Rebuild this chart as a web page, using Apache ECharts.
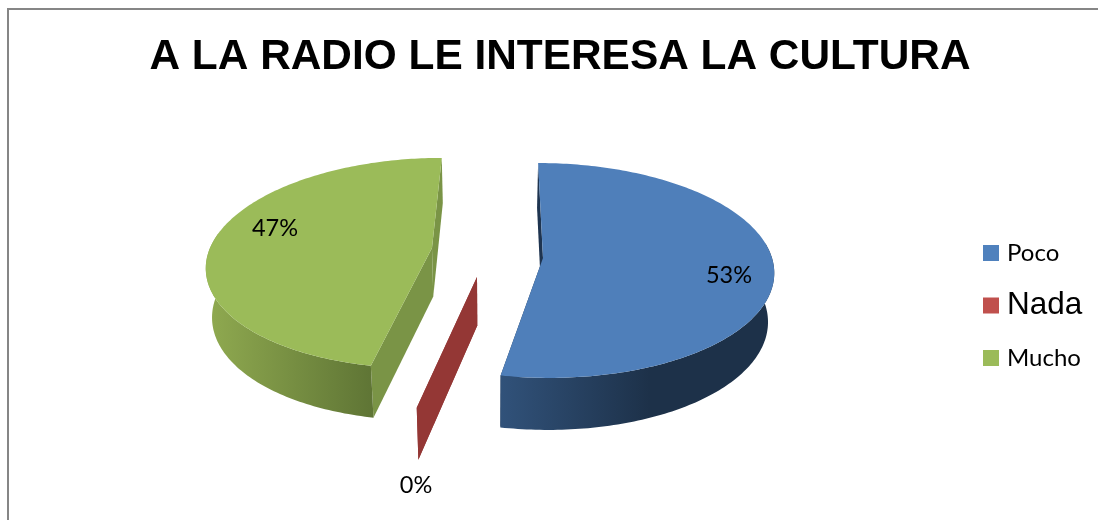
<!DOCTYPE html>
<html>
<head>
<meta charset="utf-8">
<style>html,body{margin:0;padding:0;background:#fff}#chart{width:1098px;height:520px}</style>
<script src="https://cdn.jsdelivr.net/npm/echarts@6/dist/echarts.min.js"></script>
</head>
<body>
<div id="chart"></div>
<script>
// Survey answers, in percent
const categories = ['Poco', 'Nada', 'Mucho'];
const shares = [53, 0, 47];

// Colours for each answer: legend swatch, top face, cut face, outer wall gradient
const swatchColors = ['#4f81bd', '#c0504d', '#9bbb59'];
const topColors = ['#4f7fba', '#943735', '#9bbb59'];
const cutColors = ['#1e3450', '#943735', '#7a9446'];
const wallColors = [['#31527a', '#1d3149'], ['#943735', '#943735'], ['#8ea84f', '#5f7535']];

// Projection of each exploded slice: tip position, vanishing x, perspective and radii
const projection = [
  { ax: 543, ay: 258, vx: 496, p: 0.116, rx: 229, ry: 106, wall: [500, 650] },
  { ax: 477, ay: 277, vx: 574, p: 0.116, rx: 226, ry: 118, wall: [417, 477] },
  { ax: 432, ay: 248, vx: 510, p: 0.143, rx: 222, ry: 103, wall: [213, 372] }
];
const labelAnchors = [[729, 275], [416, 485], [275, 228]];
const depthBack = 45, depthFront = 52, bottomShrink = 0.978, bottomVx = 490;
const hiddenWallLimit = -0.15; // rim points further back than this have no visible wall

const total = shares.reduce((a, b) => a + b, 0);

function rimPoint(g, deg) {
  const t = deg * Math.PI / 180;
  const w = -Math.cos(t), d = 1 - g.p * w;
  return {
    x: g.vx + (g.ax - g.vx) / d + g.rx * Math.sin(t) / d,
    y: g.ay + g.ry * w / d,
    w: w
  };
}
function tipPoint(g) { return { x: g.ax, y: g.ay, w: 0 }; }
function lower(pt) {
  return [
    bottomVx + (pt.x - bottomVx) * bottomShrink,
    pt.y + (depthBack + depthFront) / 2 + (depthFront - depthBack) / 2 * pt.w
  ];
}
const upper = pt => [pt.x, pt.y];

function renderSlice(index) {
  return function () {
    const g = projection[index];
    let startShare = 0;
    for (let i = 0; i < index; i++) startShare += shares[i];
    const start = startShare / total * 360;
    const end = (startShare + shares[index]) / total * 360;
    const rim = [];
    const steps = Math.max(1, Math.ceil(end - start));
    for (let i = 0; i <= steps; i++) rim.push(rimPoint(g, start + (end - start) * i / steps));
    const tip = tipPoint(g);
    const first = rim[0], last = rim[rim.length - 1];
    const children = [];
    const poly = (points, fill) => children.push({
      type: 'polygon', shape: { points: points }, silent: true,
      style: { fill: fill, stroke: null }
    });
    // the two cut faces running from the rim to the tip
    poly([upper(last), upper(tip), lower(tip), lower(last)], cutColors[index]);
    poly([upper(first), upper(tip), lower(tip), lower(first)], cutColors[index]);
    if (shares[index] > 0) {
      // outer wall, shaded from left to right, then the top surface over it
      const front = rim.filter(pt => pt.w > hiddenWallLimit);
      poly(front.map(upper).concat(front.map(lower).reverse()),
        new echarts.graphic.LinearGradient(g.wall[0], 0, g.wall[1], 0, [
          { offset: 0, color: wallColors[index][0] },
          { offset: 1, color: wallColors[index][1] }
        ], true));
      poly([upper(tip)].concat(rim.map(upper)), topColors[index]);
    }
    children.push({
      type: 'text', silent: true,
      style: {
        text: Math.round(shares[index] / total * 100) + '%',
        x: labelAnchors[index][0], y: labelAnchors[index][1],
        fill: '#000', font: '23.5px Lato', align: 'center', verticalAlign: 'middle'
      }
    });
    return { type: 'group', children: children };
  };
}

const chart = echarts.init(document.getElementById('chart'), null, { renderer: 'canvas' });
chart.setOption({
  animation: false,
  backgroundColor: '#fff',
  title: {
    text: 'A LA RADIO LE INTERESA LA CULTURA',
    left: 555, top: 31, textAlign: 'center',
    textStyle: { fontFamily: 'Liberation Sans', fontWeight: 'bold', fontSize: 42.4, color: '#000' }
  },
  legend: {
    orient: 'vertical', left: 983, top: 241, padding: 0, icon: 'rect',
    itemWidth: 16, itemHeight: 16, itemGap: 24.5,
    selectedMode: false,
    data: categories.map((name, i) => ({
      name: name,
      textStyle: i === 1
        ? { fontFamily: 'Liberation Sans', fontSize: 31.5, color: '#000', padding: [0, 0, 0, 3] }
        : { fontFamily: 'Lato', fontSize: 24, color: '#000', padding: [0, 0, 0, 3] }
    }))
  },
  graphic: [{
    type: 'polyline', silent: true,
    shape: { points: [[8, 520], [8, 9], [1098, 9]] },
    style: { stroke: '#868686', lineWidth: 2, fill: null }
  }],
  series: categories.map((name, i) => ({
    type: 'custom', name: name, coordinateSystem: 'none',
    silent: true,
    itemStyle: { color: swatchColors[i] },
    data: [shares[i]],
    renderItem: renderSlice(i)
  }))
});
</script>
</body>
</html>
